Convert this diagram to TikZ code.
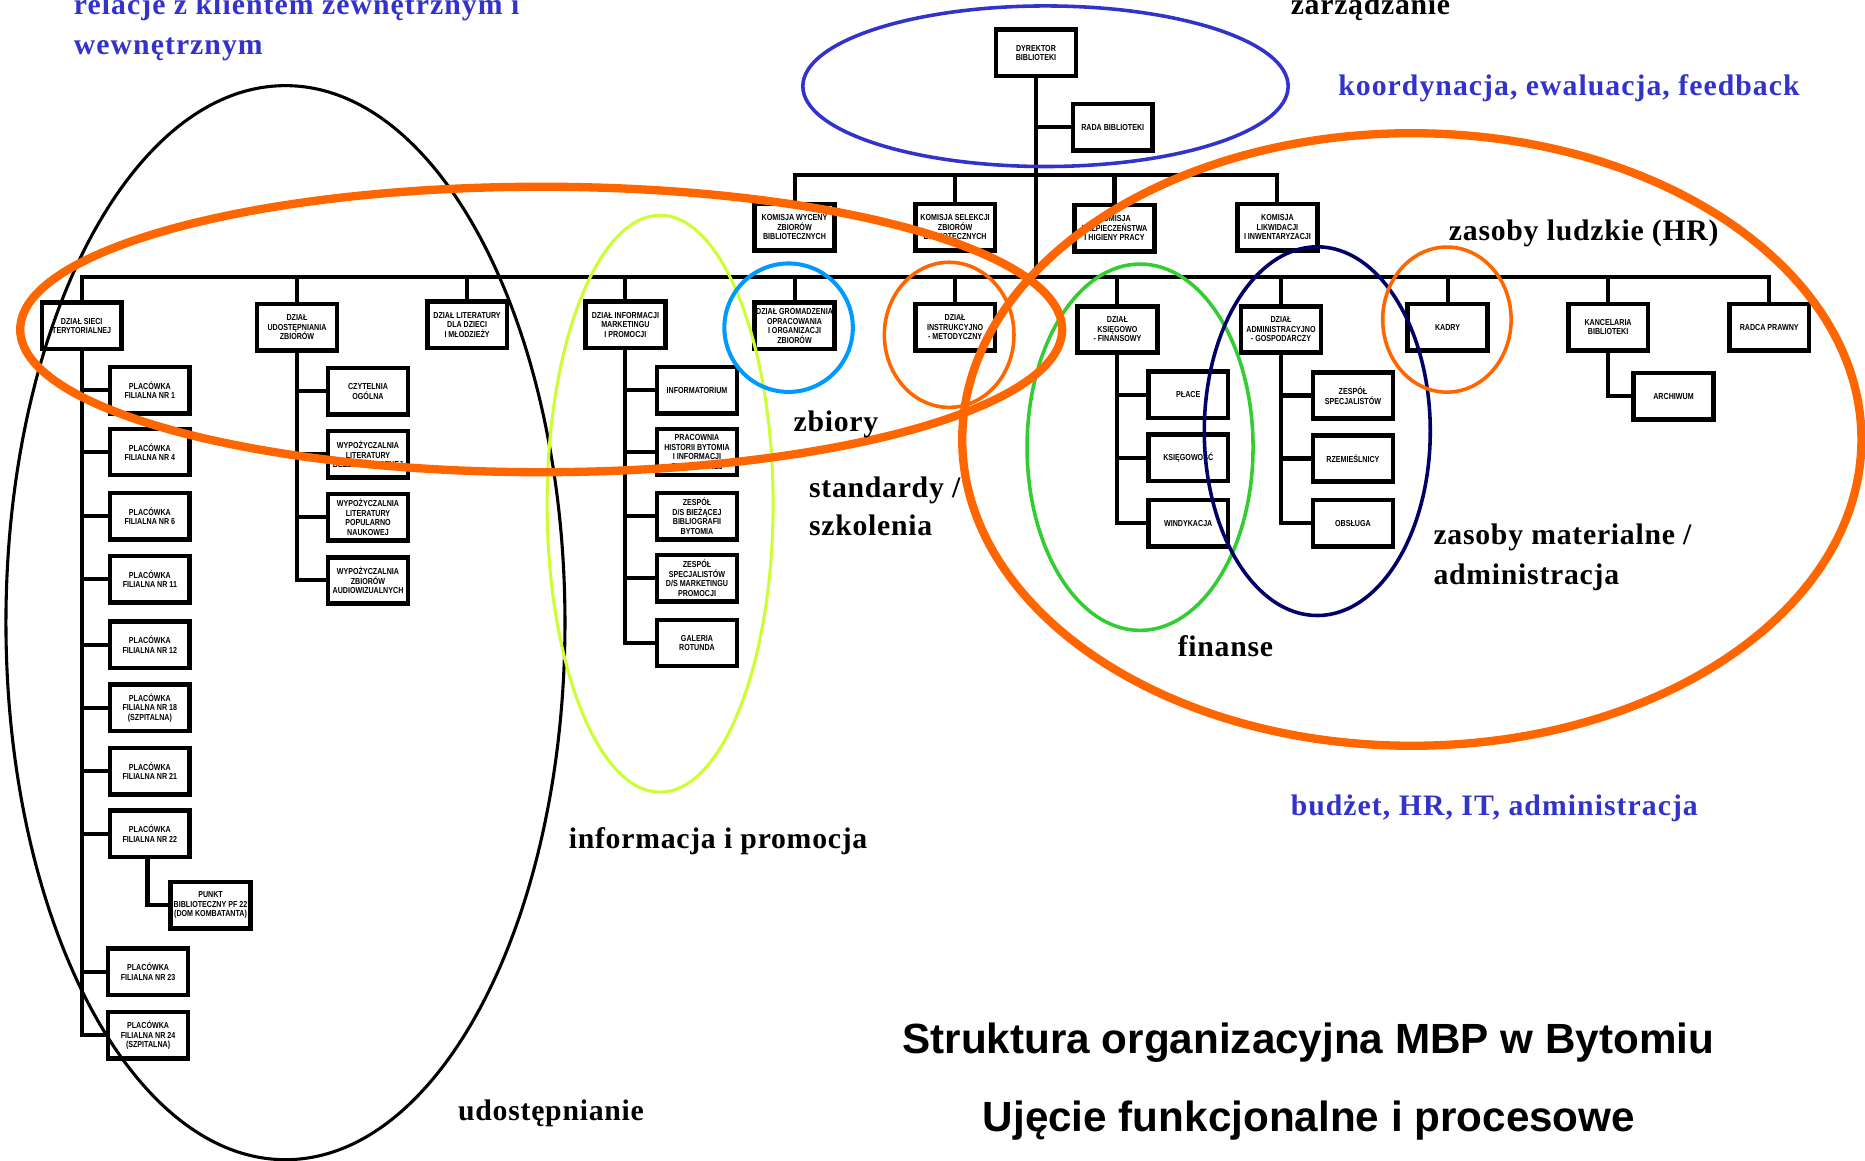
\documentclass[tikz,border=0pt]{standalone}
\usepackage{fontspec}
\setmainfont{Liberation Serif}
\newfontfamily\boxfont[FakeStretch=0.82]{Liberation Sans}
\newfontfamily\titlefont{Liberation Sans}
\newfontfamily\lblfont[LetterSpace=2.5]{Liberation Serif}
\newfontfamily\blblfont[LetterSpace=3.5]{Liberation Serif}
\definecolor{ellblue}{RGB}{51,51,204}
\definecolor{lblue}{RGB}{0,153,255}
\definecolor{ygreen}{RGB}{204,255,51}
\definecolor{egreen}{RGB}{51,204,51}
\definecolor{enavy}{RGB}{0,0,102}
\definecolor{eorange}{RGB}{255,102,0}
\tikzset{
  box/.style={draw=black, fill=white, line width=3.8pt, minimum width=67pt, minimum height=39pt,
    inner sep=0pt, align=center, font=\boxfont\bfseries\fontsize{7.3}{8}\selectfont},
  conn/.style={line width=3.4pt, line join=miter},
  lbl/.style={font=\lblfont\bfseries\fontsize{25}{30}\selectfont, anchor=base west, inner sep=0pt},
  blbl/.style={font=\blblfont\bfseries\fontsize{25}{30}\selectfont, anchor=base west, inner sep=0pt, text=ellblue},
  ttl/.style={font=\titlefont\bfseries\fontsize{35.5}{40}\selectfont, anchor=base, inner sep=0pt},
  ring/.style={line width=3pt}
}
\begin{document}
\begin{tikzpicture}[x=1pt,y=-1pt]
\useasboundingbox (0,0) rectangle (1568,976);
% management
\node[box] (dyr) at (871,44.5) {DYREKTOR\\BIBLIOTEKI};
\node[box] (rada) at (935.5,107) {RADA BIBLIOTEKI};
\node[box] (kwyc) at (668,191) {KOMISJA WYCENY\\ZBIORÓW\\BIBLIOTECZNYCH};
\node[box] (ksel) at (803,191) {KOMISJA SELEKCJI\\ZBIORÓW\\BIBLIOTECZNYCH};
\node[box] (kbhp) at (937,192) {KOMISJA\\BEZPIECZEŃSTWA\\I HIGIENY PRACY};
\node[box] (klik) at (1074,191) {KOMISJA\\LIKWIDACJI\\I INWENTARYZACJI};
\coordinate (kb) at (871,147);
\coordinate (mb) at (871,233);
% departments
\node[box] (dsieci) at (68.7,274) {DZIAŁ SIECI\\TERYTORIALNEJ};
\node[box] (dudost) at (249.7,275) {DZIAŁ\\UDOSTĘPNIANIA\\ZBIORÓW};
\node[box] (dlit) at (392.7,273) {DZIAŁ LITERATURY\\DLA DZIECI\\I MŁODZIEŻY};
\node[box] (dinfo) at (525.8,273) {DZIAŁ INFORMACJI\\MARKETINGU\\I PROMOCJI};
\node[box] (dgrom) at (668,274) {DZIAŁ GROMADZENIA\\OPRACOWANIA\\I ORGANIZACJI\\ZBIORÓW};
\node[box] (dinstr) at (803,275) {DZIAŁ\\INSTRUKCYJNO\\- METODYCZNY};
\node[box] (dksieg) at (939.5,277) {DZIAŁ\\KSIĘGOWO\\- FINANSOWY};
\node[box] (dadmin) at (1077,277) {DZIAŁ\\ADMINISTRACYJNO\\- GOSPODARCZY};
\node[box] (kadry) at (1217,275) {KADRY};
\node[box] (kanc) at (1352,275) {KANCELARIA\\BIBLIOTEKI};
\node[box] (radca) at (1487.5,275) {RADCA PRAWNY};
\node[box] (arch) at (1407,333) {ARCHIWUM};
% branches
\node[box] (pl1) at (126,328) {PLACÓWKA\\FILIALNA NR 1};
\node[box] (pl4) at (126,380) {PLACÓWKA\\FILIALNA NR 4};
\node[box] (pl6) at (126,434) {PLACÓWKA\\FILIALNA NR 6};
\node[box] (pl11) at (126,487) {PLACÓWKA\\FILIALNA NR 11};
\node[box] (pl12) at (126,542) {PLACÓWKA\\FILIALNA NR 12};
\node[box] (pl18) at (126,595) {PLACÓWKA\\FILIALNA NR 18\\(SZPITALNA)};
\node[box] (pl21) at (126,648.5) {PLACÓWKA\\FILIALNA NR 21};
\node[box] (pl22) at (126,701) {PLACÓWKA\\FILIALNA NR 22};
\node[box] (punkt) at (177,761) {PUNKT\\BIBLIOTECZNY PF 22\\(DOM KOMBATANTA)};
\node[box] (pl23) at (124.5,817) {PLACÓWKA\\FILIALNA NR 23};
\node[box] (pl24) at (124.5,870.5) {PLACÓWKA\\FILIALNA NR 24\\(SZPITALNA)};
% udostepniania
\node[box] (czyt) at (309.4,329) {CZYTELNIA\\OGÓLNA};
\node[box] (belet) at (309.4,382) {WYPOŻYCZALNIA\\LITERATURY\\BELETRYSTYCZNEJ};
\node[box] (popul) at (309.4,435) {WYPOŻYCZALNIA\\LITERATURY\\POPULARNO\\NAUKOWEJ};
\node[box] (audio) at (309.4,488) {WYPOŻYCZALNIA\\ZBIORÓW\\AUDIOWIZUALNYCH};
% informacji
\node[box] (inform) at (586,328) {INFORMATORIUM};
\node[box] (pracow) at (586,380) {PRACOWNIA\\HISTORII BYTOMIA\\I INFORMACJI\\REGIONALNEJ};
\node[box] (biez) at (586,434) {ZESPÓŁ\\D/S BIEŻĄCEJ\\BIBLIOGRAFII\\BYTOMIA};
\node[box] (specm) at (586,486) {ZESPÓŁ\\SPECJALISTÓW\\D/S MARKETINGU\\PROMOCJI};
\node[box] (galer) at (586,540.6) {GALERIA\\ROTUNDA};
% ksiegowo
\node[box] (place) at (999,332) {PŁACE};
\node[box] (ksieg) at (999,385) {KSIĘGOWOŚĆ};
\node[box] (windyk) at (999,440) {WINDYKACJA};
% admin
\node[box] (zespol) at (1137.5,332.5) {ZESPÓŁ\\SPECJALISTÓW};
\node[box] (rzem) at (1137.5,385.5) {RZEMIEŚLNICY};
\node[box] (obsl) at (1137.5,440) {OBSŁUGA};
% connectors
\draw[conn] (dyr.south) -- (mb);
\draw[conn] (dyr.south |- rada.west) -- (rada.west);
\draw[conn] (kwyc.north) |- (kb) -| (klik.north);
\draw[conn] (ksel.north) -- (ksel.north |- kb);
\draw[conn] (kbhp.north) -- (kbhp.north |- kb);
\draw[conn] (dsieci.north) |- (mb) -| (radca.north);
\foreach \n in {dudost,dlit,dinfo,dgrom,dinstr,dksieg,dadmin,kadry,kanc}
  \draw[conn] (\n.north) -- (\n.north |- mb);
\foreach \n in {pl1,pl4,pl6,pl11,pl12,pl18,pl21,pl22,pl23,pl24}
  \draw[conn] (dsieci.south) |- (\n.west);
\draw[conn] ([xshift=-2pt]pl22.south) |- (punkt.west);
\foreach \n in {czyt,belet,popul,audio}
  \draw[conn] (dudost.south) |- (\n.west);
\foreach \n in {inform,pracow,biez,specm,galer}
  \draw[conn] (dinfo.south) |- (\n.west);
\foreach \n in {place,ksieg,windyk}
  \draw[conn] (dksieg.south) |- (\n.west);
\foreach \n in {zespol,rzem,obsl}
  \draw[conn] (dadmin.south) |- (\n.west);
\draw[conn] (kanc.south) |- (arch.west);
% ellipses
\draw[ellblue, ring] (879,72.5) ellipse [x radius=204pt, y radius=67.5pt];
\draw[black, line width=2.6pt] (240,523.5) ellipse [x radius=235pt, y radius=451.5pt];
\draw[ygreen, line width=2.6pt] (555,423.5) ellipse [x radius=95pt, y radius=242.5pt];
\draw[lblue, line width=3.4pt] (663,275.5) ellipse [x radius=54pt, y radius=54pt];
\draw[eorange, ring] (798,281.5) ellipse [x radius=54.5pt, y radius=61pt];
\draw[egreen, ring] (958.5,376) ellipse [x radius=95pt, y radius=154pt];
\draw[enavy, ring] (1107.5,362.5) ellipse [x radius=95pt, y radius=155pt];
\draw[eorange, ring] (1216.5,268.7) ellipse [x radius=54pt, y radius=61pt];
\draw[eorange, line width=7pt] (455,277) ellipse [x radius=438pt, y radius=120pt];
\draw[eorange, line width=7pt] (1187,369.5) ellipse [x radius=378pt, y radius=257.5pt];
% labels
\node[blbl] (t1) at (62,12.6) {relacje  z klientem  zewnętrznym  i};
\node[blbl] (t2) at (62,46) {wewnętrznym};
\node[lbl] (t3) at (1085,12.6) {zarządzanie};
\node[blbl] (t4) at (1125,80) {koordynacja,  ewaluacja,  feedback};
\node[lbl] (t5) at (1218,202) {zasoby  ludzkie  (HR)};
\node[lbl] (t6) at (667,363) {zbiory};
\node[lbl] (t7) at (680,418) {standardy  /};
\node[lbl] (t8) at (680,450) {szkolenia};
\node[lbl] (t9) at (1205,458) {zasoby  materialne  /};
\node[lbl] (t10) at (1205,491) {administracja};
\node[lbl] (t11) at (990,552) {finanse};
\node[blbl] (t12) at (1085,686) {budżet,  HR, IT, administracja};
\node[lbl] (t13) at (478,713) {informacja  i promocja};
\node[lbl] (t14) at (385,942) {udostępnianie};
\node[ttl] (t15) at (1100,886) {Struktura organizacyjna MBP w Bytomiu};
\node[ttl] (t16) at (1100.5,951) {Ujęcie funkcjonalne i procesowe};
\end{tikzpicture}
\end{document}
